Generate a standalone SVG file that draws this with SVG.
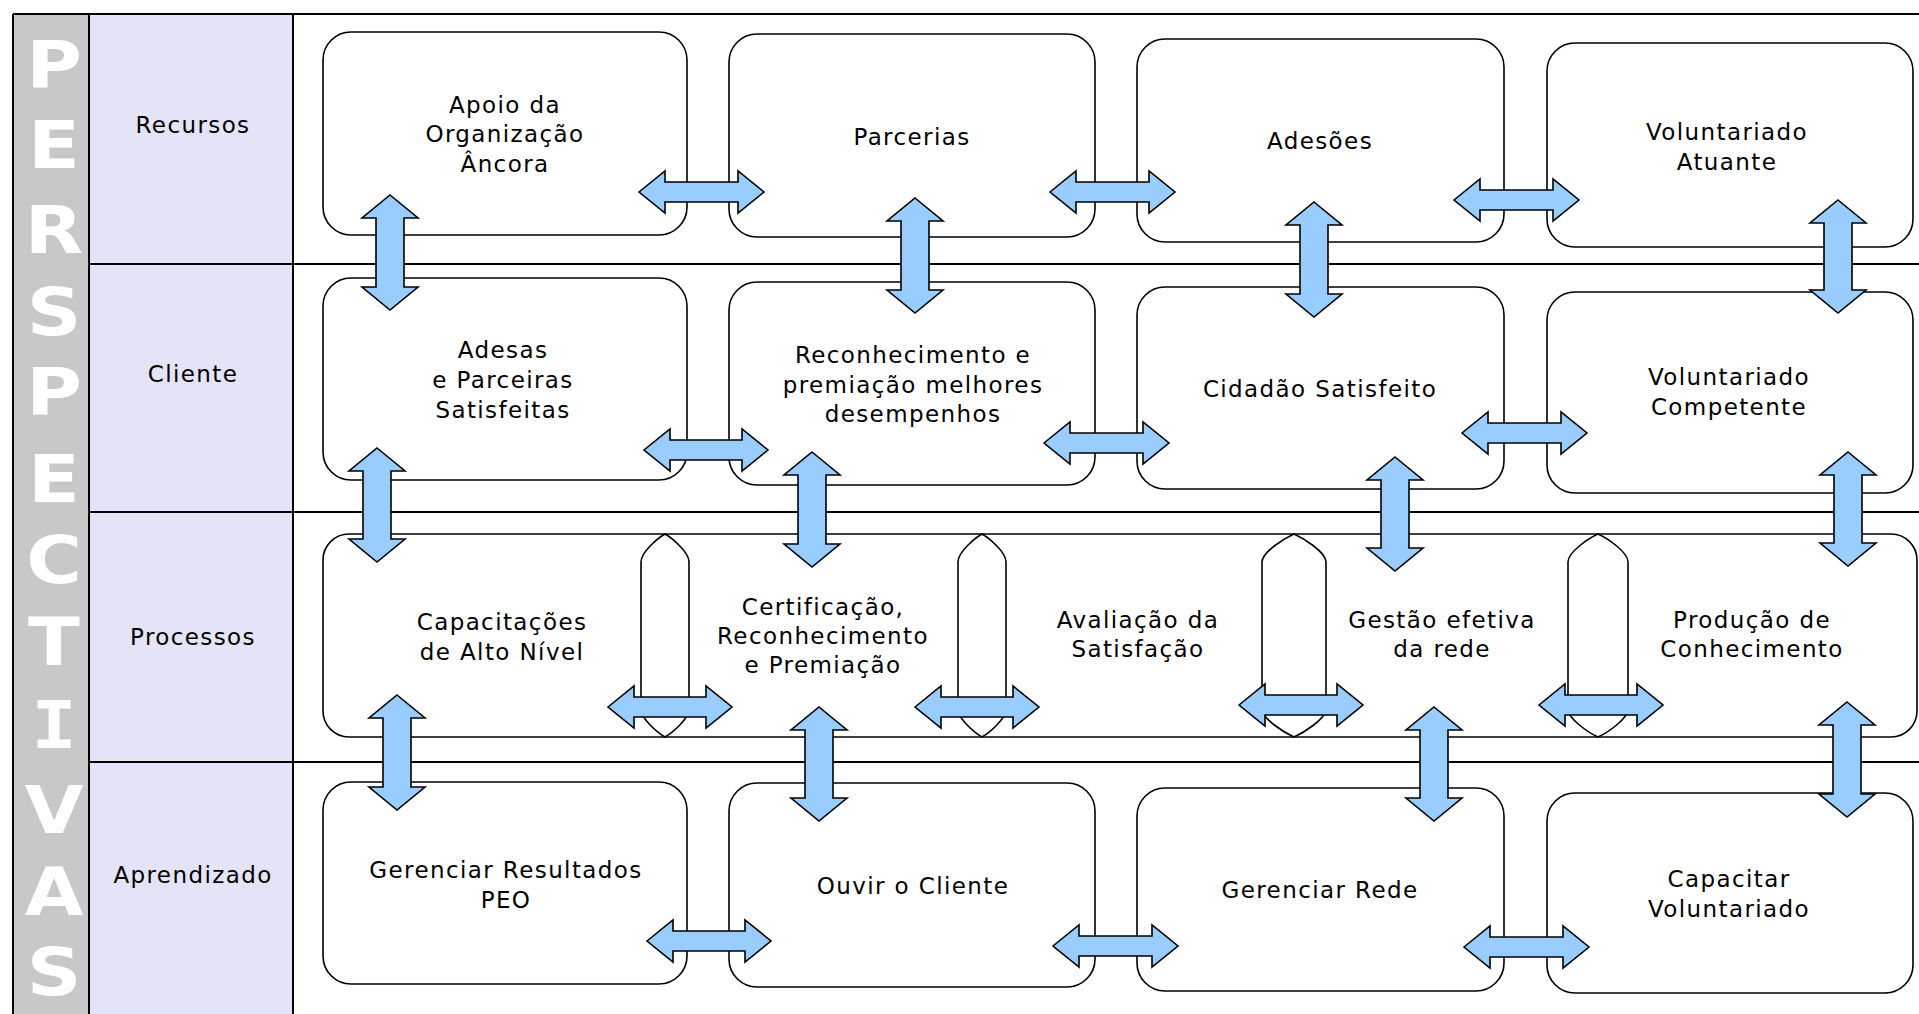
<svg xmlns="http://www.w3.org/2000/svg" width="1919" height="1014" viewBox="0 0 1919 1014">
<style>
.bg{fill:#fff}
.gray{fill:#c8c8c8}
.lav{fill:#e4e4f9}
.ln{stroke:#000;stroke-width:2;fill:none}
.box{fill:#fff;stroke:#000;stroke-width:1.6}
.arr{fill:#99ccff;stroke:#000;stroke-width:1.6;stroke-linejoin:miter}
.t{font-family:"DejaVu Sans",Verdana,sans-serif;font-size:23px;letter-spacing:1.4px;text-anchor:middle;fill:#000}
.big{font-family:"DejaVu Sans",Verdana,sans-serif;font-weight:bold;font-size:66px;fill:#fff;text-anchor:middle}
.bigm{font-family:"DejaVu Sans Mono",monospace;font-weight:bold;font-size:66px;fill:#fff;text-anchor:middle}
</style>
<rect class="bg" x="0" y="0" width="1919" height="1014"/>
<g id="frame">
<rect class="gray" x="13" y="14" width="76" height="1000"/>
<rect class="lav" x="89" y="14" width="204" height="1000"/>
<line class="ln" x1="13" y1="14" x2="1919" y2="14"/>
<line class="ln" x1="13" y1="14" x2="13" y2="1014"/>
<line class="ln" x1="89" y1="14" x2="89" y2="1014"/>
<line class="ln" x1="293" y1="14" x2="293" y2="1014"/>
<line class="ln" x1="89" y1="264" x2="1919" y2="264"/>
<line class="ln" x1="89" y1="512" x2="1919" y2="512"/>
<line class="ln" x1="89" y1="762" x2="1919" y2="762"/>
</g>
<g id="perspectivas-title" transform="translate(54,0) scale(1.15,1)">
<text class="big" x="0" y="88">P</text>
<text class="big" x="0" y="168">E</text>
<text class="big" x="0" y="253">R</text>
<text class="big" x="0" y="335">S</text>
<text class="big" x="0" y="415">P</text>
<text class="big" x="0" y="502">E</text>
<text class="big" x="0" y="583">C</text>
<text class="big" x="0" y="665">T</text>
<text class="bigm" x="0" y="748">I</text>
<text class="big" x="0" y="833">V</text>
<text class="big" x="0" y="915">A</text>
<text class="big" x="0" y="995">S</text>
</g>
<g id="lane-recursos"><text class="t" x="193" y="133">Recursos</text></g>
<g id="lane-cliente"><text class="t" x="193" y="382">Cliente</text></g>
<g id="lane-processos"><text class="t" x="193" y="645">Processos</text></g>
<g id="lane-aprendizado"><text class="t" x="193" y="883">Aprendizado</text></g>

<g id="n-apoio"><rect class="box" x="323" y="32" width="364" height="203" rx="28"/>
<text class="t" x="505" y="113">Apoio da</text><text class="t" x="505" y="142">Organização</text><text class="t" x="505" y="172">Âncora</text></g>
<g id="n-parcerias"><rect class="box" x="729" y="34" width="366" height="203" rx="28"/>
<text class="t" x="912" y="145">Parcerias</text></g>
<g id="n-adesoes"><rect class="box" x="1137" y="39" width="367" height="203" rx="28"/>
<text class="t" x="1320" y="149">Adesões</text></g>
<g id="n-vol-atuante"><rect class="box" x="1547" y="43" width="366" height="204" rx="28"/>
<text class="t" x="1727" y="140">Voluntariado</text><text class="t" x="1727" y="170">Atuante</text></g>

<g id="n-adesas"><rect class="box" x="323" y="278" width="364" height="202" rx="28"/>
<text class="t" x="503" y="358">Adesas</text><text class="t" x="503" y="388">e Parceiras</text><text class="t" x="503" y="418">Satisfeitas</text></g>
<g id="n-reconhecimento"><rect class="box" x="729" y="282" width="366" height="203" rx="28"/>
<text class="t" x="913" y="363">Reconhecimento e</text><text class="t" x="913" y="393">premiação melhores</text><text class="t" x="913" y="422">desempenhos</text></g>
<g id="n-cidadao"><rect class="box" x="1137" y="287" width="367" height="202" rx="28"/>
<text class="t" x="1320" y="397">Cidadão Satisfeito</text></g>
<g id="n-vol-competente"><rect class="box" x="1547" y="292" width="366" height="201" rx="28"/>
<text class="t" x="1729" y="385">Voluntariado</text><text class="t" x="1729" y="415">Competente</text></g>

<g id="processos-band">
<rect class="box" x="323" y="534" width="1594" height="203" rx="26"/>
<path class="box" d="M665,534 C672,538 689,552 689,562 L689,709 C689,719 672,733 665,737 C658,733 641,719 641,709 L641,562 C641,552 658,538 665,534 Z"/>
<path class="box" d="M982,534 C989,538 1006,552 1006,562 L1006,709 C1006,719 989,733 982,737 C975,733 958,719 958,709 L958,562 C958,552 975,538 982,534 Z"/>
<path class="box" d="M1294,534 C1303,538 1326,552 1326,562 L1326,709 C1326,719 1303,733 1294,737 C1285,733 1262,719 1262,709 L1262,562 C1262,552 1285,538 1294,534 Z"/>
<path class="box" d="M1598,534 C1607,538 1628,552 1628,562 L1628,709 C1628,719 1607,733 1598,737 C1589,733 1568,719 1568,709 L1568,562 C1568,552 1589,538 1598,534 Z"/>
</g>
<g id="n-capacitacoes"><text class="t" x="502" y="630">Capacitações</text><text class="t" x="502" y="660">de Alto Nível</text></g>
<g id="n-certificacao"><text class="t" x="823" y="615">Certificação,</text><text class="t" x="823" y="644">Reconhecimento</text><text class="t" x="823" y="673">e Premiação</text></g>
<g id="n-avaliacao"><text class="t" x="1138" y="628">Avaliação da</text><text class="t" x="1138" y="657">Satisfação</text></g>
<g id="n-gestao"><text class="t" x="1442" y="628">Gestão efetiva</text><text class="t" x="1442" y="657">da rede</text></g>
<g id="n-producao"><text class="t" x="1752" y="628">Produção de</text><text class="t" x="1752" y="657">Conhecimento</text></g>

<g id="n-gerenciar-resultados"><rect class="box" x="323" y="782" width="364" height="202" rx="28"/>
<text class="t" x="506" y="878">Gerenciar Resultados</text><text class="t" x="506" y="908">PEO</text></g>
<g id="n-ouvir"><rect class="box" x="729" y="783" width="366" height="204" rx="28"/>
<text class="t" x="913" y="894">Ouvir o Cliente</text></g>
<g id="n-gerenciar-rede"><rect class="box" x="1137" y="788" width="367" height="203" rx="28"/>
<text class="t" x="1320" y="898">Gerenciar Rede</text></g>
<g id="n-capacitar"><rect class="box" x="1547" y="793" width="366" height="200" rx="28"/>
<text class="t" x="1729" y="887">Capacitar</text><text class="t" x="1729" y="917">Voluntariado</text></g>

<g id="connectors">
<path class="arr" d="M639,192 L665,171 L665,182 L738,182 L738,171 L764,192 L738,213 L738,202 L665,202 L665,213 Z"/>
<path class="arr" d="M1050,192 L1076,171 L1076,182 L1149,182 L1149,171 L1175,192 L1149,213 L1149,202 L1076,202 L1076,213 Z"/>
<path class="arr" d="M1454,200 L1480,179 L1480,190 L1553,190 L1553,179 L1579,200 L1553,221 L1553,210 L1480,210 L1480,221 Z"/>
<path class="arr" d="M644,450 L670,429 L670,440 L742,440 L742,429 L768,450 L742,471 L742,460 L670,460 L670,471 Z"/>
<path class="arr" d="M1044,443 L1070,422 L1070,433 L1143,433 L1143,422 L1169,443 L1143,464 L1143,453 L1070,453 L1070,464 Z"/>
<path class="arr" d="M1462,433 L1488,412 L1488,423 L1561,423 L1561,412 L1587,433 L1561,454 L1561,443 L1488,443 L1488,454 Z"/>
<path class="arr" d="M608,707 L634,686 L634,697 L706,697 L706,686 L732,707 L706,728 L706,717 L634,717 L634,728 Z"/>
<path class="arr" d="M915,707 L941,686 L941,697 L1013,697 L1013,686 L1039,707 L1013,728 L1013,717 L941,717 L941,728 Z"/>
<path class="arr" d="M1239,705 L1265,684 L1265,695 L1337,695 L1337,684 L1363,705 L1337,726 L1337,715 L1265,715 L1265,726 Z"/>
<path class="arr" d="M1539,705 L1565,684 L1565,695 L1637,695 L1637,684 L1663,705 L1637,726 L1637,715 L1565,715 L1565,726 Z"/>
<path class="arr" d="M647,941 L673,920 L673,931 L745,931 L745,920 L771,941 L745,962 L745,951 L673,951 L673,962 Z"/>
<path class="arr" d="M1053,946 L1079,925 L1079,936 L1152,936 L1152,925 L1178,946 L1152,967 L1152,956 L1079,956 L1079,967 Z"/>
<path class="arr" d="M1464,947 L1490,926 L1490,937 L1563,937 L1563,926 L1589,947 L1563,968 L1563,957 L1490,957 L1490,968 Z"/>

<path class="arr" d="M390,195 L418,218 L404,218 L404,287 L418,287 L390,310 L362,287 L376,287 L376,218 L362,218 Z"/>
<path class="arr" d="M915,198 L943,221 L929,221 L929,290 L943,290 L915,313 L887,290 L901,290 L901,221 L887,221 Z"/>
<path class="arr" d="M1314,202 L1342,225 L1328,225 L1328,294 L1342,294 L1314,317 L1286,294 L1300,294 L1300,225 L1286,225 Z"/>
<path class="arr" d="M1838,200 L1866,223 L1852,223 L1852,290 L1866,290 L1838,313 L1810,290 L1824,290 L1824,223 L1810,223 Z"/>
<path class="arr" d="M377,448 L405,471 L391,471 L391,539 L405,539 L377,562 L349,539 L363,539 L363,471 L349,471 Z"/>
<path class="arr" d="M812,452 L840,475 L826,475 L826,544 L840,544 L812,567 L784,544 L798,544 L798,475 L784,475 Z"/>
<path class="arr" d="M1395,457 L1423,480 L1409,480 L1409,548 L1423,548 L1395,571 L1367,548 L1381,548 L1381,480 L1367,480 Z"/>
<path class="arr" d="M1848,452 L1876,475 L1862,475 L1862,543 L1876,543 L1848,566 L1820,543 L1834,543 L1834,475 L1820,475 Z"/>
<path class="arr" d="M397,695 L425,718 L411,718 L411,787 L425,787 L397,810 L369,787 L383,787 L383,718 L369,718 Z"/>
<path class="arr" d="M819,707 L847,730 L833,730 L833,798 L847,798 L819,821 L791,798 L805,798 L805,730 L791,730 Z"/>
<path class="arr" d="M1434,707 L1462,730 L1448,730 L1448,798 L1462,798 L1434,821 L1406,798 L1420,798 L1420,730 L1406,730 Z"/>
<path class="arr" d="M1847,702 L1875,725 L1861,725 L1861,794 L1875,794 L1847,817 L1819,794 L1833,794 L1833,725 L1819,725 Z"/>
</g>
</svg>
